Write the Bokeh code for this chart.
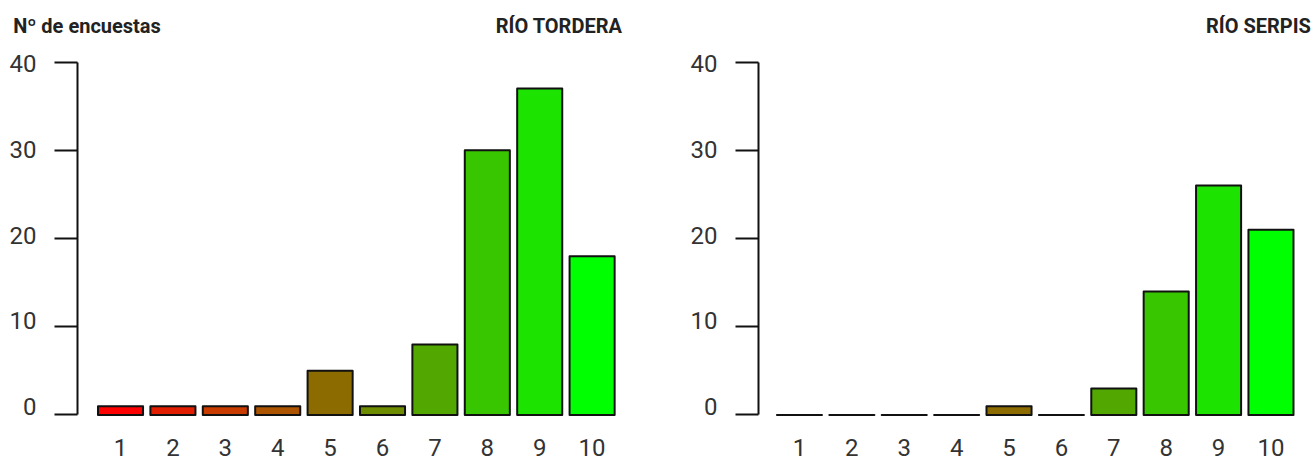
from bokeh.plotting import figure
from bokeh.layouts import row
from bokeh.models import (FixedTicker, Range1d, ColumnDataSource, LinearAxis,
                          CustomJSTickFormatter, CustomLabelingPolicy)
from bokeh.embed import file_html
from bokeh.resources import INLINE

scores = [1, 2, 3, 4, 5, 6, 7, 8, 9, 10]
tordera = [1, 1, 1, 1, 5, 1, 8, 30, 37, 18]
serpis = [0, 0, 0, 0, 1, 0, 3, 14, 26, 21]
colors = ["#ff0000", "#e21e00", "#c83c00", "#ac5400", "#8c6c00",
          "#6e8c00", "#52a800", "#38c600", "#1ce300", "#00ff00"]
y_ticks = [0, 10, 20, 30, 40]
y_label = "Nº de encuestas"
titles = ["RÍO TORDERA", "RÍO SERPIS"]

FONT = "Roboto"
TEXT_COL = "#333333"
H = 461
LBL_OFF, LBL_SCALE = 0.966, 0.9705

NEAREST = """
let best = 0;
for (let i = 0; i < pos.length; i++) {
  if (Math.abs(pos[i] - tick) < Math.abs(pos[best] - tick)) best = i;
}
return names[best];
"""


def make_panel(values, width, left, right, xstart, xend, head_names, head_pos):
    p = figure(width=width, height=H, output_backend="svg", toolbar_location=None,
               x_range=Range1d(xstart, xend), y_range=Range1d(-0.4, 40.4),
               min_border_left=left, min_border_right=right,
               min_border_top=58, min_border_bottom=43)
    src = ColumnDataSource(dict(x=scores, top=values, color=colors))
    p.vbar(x="x", top="top", bottom=0, width=0.86, source=src,
           fill_color="color", line_color="#111111", line_width=2, line_join="round")
    p.xgrid.visible = False
    p.ygrid.visible = False
    p.outline_line_color = None

    xa = p.xaxis[0]
    xa.ticker = FixedTicker(ticks=scores)
    xa.axis_line_color = None
    xa.major_tick_line_color = None
    xa.minor_tick_line_color = None
    xa.major_label_text_font = FONT
    xa.major_label_text_font_size = "24px"
    xa.major_label_text_color = TEXT_COL
    xa.major_label_standoff = 14

    ya = p.yaxis[0]
    ya.ticker = FixedTicker(ticks=y_ticks)
    ya.bounds = (0, 40)
    ya.axis_line_color = "#111111"
    ya.axis_line_width = 2
    ya.major_tick_line_color = "#111111"
    ya.major_tick_line_width = 2
    ya.major_tick_in = 0
    ya.major_tick_out = 23
    ya.minor_tick_line_color = None
    ya.major_label_standoff = 0
    ya.major_label_policy = CustomLabelingPolicy(code="return new Set()")

    # y tick numbers (raised slightly above their ticks, as in the reference)
    la = LinearAxis(ticker=FixedTicker(ticks=[LBL_OFF + LBL_SCALE * t for t in y_ticks]),
                    formatter=CustomJSTickFormatter(
                        args=dict(off=LBL_OFF, sc=LBL_SCALE),
                        code="return Math.round((tick - off) / sc).toString();"),
                    axis_line_color=None, major_tick_line_color=None,
                    minor_tick_line_color=None, major_tick_in=0, major_tick_out=0,
                    major_label_text_font=FONT, major_label_text_font_size="24px",
                    major_label_text_color=TEXT_COL, major_label_standoff=3)
    p.add_layout(la, "left")

    # header texts (panel title and y-quantity) on one line above the frame
    ha = LinearAxis(ticker=FixedTicker(ticks=head_pos),
                    formatter=CustomJSTickFormatter(
                        args=dict(names=head_names, pos=head_pos), code=NEAREST),
                    axis_line_color=None, major_tick_line_color=None,
                    minor_tick_line_color=None, major_tick_in=0, major_tick_out=0,
                    major_label_text_font=FONT, major_label_text_font_style="bold",
                    major_label_text_font_size="20px", major_label_text_color="#222222",
                    major_label_standoff=21)
    p.add_layout(ha, "above")
    return p


p1 = make_panel(tordera, 660, 77, 38, 0.179, 10.58, [y_label, titles[0]], [0.36, 9.37])
p2 = make_panel(serpis, 654, 98, 10, 0.218, 10.64, [titles[1]], [9.76])

layout = row(p1, p2)
open("out.html", "w").write(file_html(layout, INLINE))
